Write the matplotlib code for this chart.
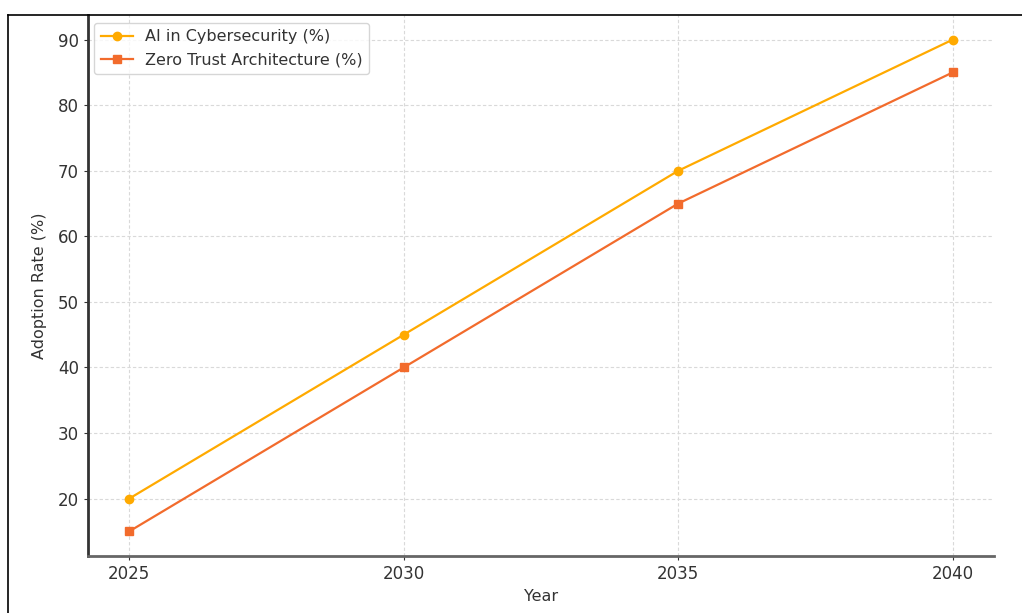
import matplotlib.pyplot as plt
from matplotlib.lines import Line2D

# data
years = [2025, 2030, 2035, 2040]
ai_cyber = [20, 45, 70, 90]
zero_trust = [15, 40, 65, 85]

W, H = 1022, 613
fig = plt.figure(figsize=(W / 100, H / 100), dpi=100)
ax = fig.add_axes([88 / W, 1 - 556 / H, (994 - 88) / W, (556 - 15) / H])

ax.plot(years, ai_cyber, color='#FFAA00', marker='o', markersize=6, linewidth=1.6,
        label='AI in Cybersecurity (%)')
ax.plot(years, zero_trust, color='#F26B2C', marker='s', markersize=6, linewidth=1.6,
        label='Zero Trust Architecture (%)')

ax.set_xticks(years)
ax.set_yticks(range(20, 100, 10))
ax.tick_params(labelsize=12, colors='#333333', length=3)
ax.set_xlabel('Year', fontsize=11.5, color='#333333', labelpad=4)
ax.set_ylabel('Adoption Rate (%)', fontsize=11.5, color='#333333', labelpad=8)
ax.grid(True, linestyle=(0, (3, 2)), color='#d9d9d9', linewidth=0.8)

ax.spines['top'].set_visible(False)
ax.spines['right'].set_visible(False)
ax.spines['left'].set_color('#333333')
ax.spines['left'].set_linewidth(2)
ax.spines['bottom'].set_color('#666666')
ax.spines['bottom'].set_linewidth(2)

leg = ax.legend(loc='upper left', fontsize=11.5, framealpha=0.8, borderpad=0.4,
                handlelength=2.0, bbox_to_anchor=(-0.002, 1.0))
for t in leg.get_texts():
    t.set_color('#333333')

# black frame from the screenshot
fig.add_artist(Line2D([8 / W, 1], [1 - 15 / H, 1 - 15 / H], color='black', linewidth=1.2))
fig.add_artist(Line2D([8 / W, 8 / W], [0, 1 - 15 / H], color='black', linewidth=1.2))

fig.savefig('out.png', dpi=100)
